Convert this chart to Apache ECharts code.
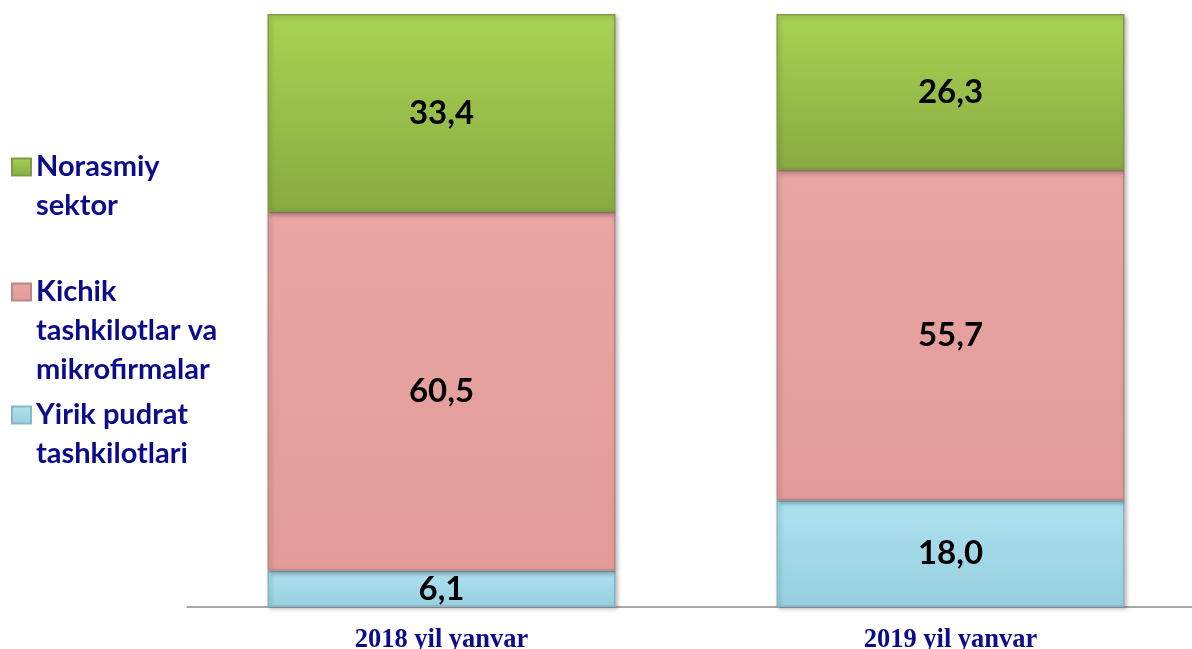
<!DOCTYPE html>
<html>
<head>
<meta charset="utf-8">
<script src="https://cdn.jsdelivr.net/npm/echarts@6/dist/echarts.min.js"></script>
<style>
  html, body { margin: 0; padding: 0; background: #fff; }
  #chart { width: 1192px; height: 649px; }
</style>
</head>
<body>
<div id="chart"></div>
<script>
// data (percent shares)
const categories = ['2018 yil yanvar', '2019 yil yanvar'];
const yirik = [6.1, 18.0];
const kichik = [60.5, 55.7];
const norasmiy = [33.4, 26.3];
const seriesNames = ['Yirik pudrat tashkilotlari', 'Kichik tashkilotlar va mikrofirmalar', 'Norasmiy sektor'];
const legendLines = {
  'Norasmiy sektor': ['Norasmiy', 'sektor'],
  'Kichik tashkilotlar va mikrofirmalar': ['Kichik', 'tashkilotlar va', 'mikrofirmalar'],
  'Yirik pudrat tashkilotlari': ['Yirik pudrat', 'tashkilotlari']
};

var chartDom = document.getElementById('chart');
var myChart = echarts.init(chartDom);
var LH = 39;

function grad(top, bottom) {
  return new echarts.graphic.LinearGradient(0, 0, 0, 1, [
    { offset: 0, color: top },
    { offset: 1, color: bottom }
  ]);
}

// the icon sits on the first text line: pad the text with empty lines on top
function makeLegend(name, iconCenter) {
  var n = legendLines[name].length;
  return {
    data: [name],
    orient: 'vertical',
    left: 11,
    top: iconCenter - (2 * n - 1) * LH / 2,
    padding: 0,
    icon: 'rect',
    itemWidth: 19,
    itemHeight: 17,
    selectedMode: false,
    formatter: function (nm) {
      var lines = legendLines[nm];
      var pad = [];
      for (var i = 1; i < lines.length; i++) pad.push(' ');
      return pad.concat(lines).join('\n');
    },
    textStyle: {
      color: '#0c0c8a',
      fontFamily: 'Lato',
      fontWeight: 'bold',
      fontSize: 29,
      lineHeight: LH
    }
  };
}

var labelCfg = {
  show: true,
  position: 'inside',
  color: '#000',
  fontFamily: 'Lato',
  fontWeight: 'bold',
  fontSize: 33,
  formatter: function (p) { return p.value.toFixed(1).replace('.', ','); }
};

function barSeries(name, data, top, bottom, border) {
  return {
    name: name,
    type: 'bar',
    stack: 'total',
    barWidth: 348,
    data: data,
    label: labelCfg,
    itemStyle: {
      color: grad(top, bottom),
      borderColor: border,
      borderWidth: 1.5,
      shadowColor: 'rgba(0,0,0,0.25)',
      shadowBlur: 4,
      shadowOffsetX: 2,
      shadowOffsetY: 2
    }
  };
}

var option = {
  animation: false,
  legend: [
    makeLegend('Norasmiy sektor', 167),
    makeLegend('Kichik tashkilotlar va mikrofirmalar', 292),
    makeLegend('Yirik pudrat tashkilotlari', 415)
  ],
  grid: {
    left: 187,
    width: 1018,
    top: 14,
    bottom: 42,
    containLabel: false,
    outerBoundsMode: 'none'
  },
  xAxis: {
    type: 'category',
    data: categories,
    axisTick: { show: false },
    axisLine: { lineStyle: { color: '#8c8c8c', width: 1.5 } },
    axisLabel: {
      color: '#0c0c8a',
      fontFamily: 'Liberation Serif',
      fontWeight: 'bold',
      fontSize: 26.5,
      margin: 20
    }
  },
  yAxis: {
    type: 'value',
    min: 0,
    max: 100,
    show: false,
    splitLine: { show: false }
  },
  series: [
    barSeries(seriesNames[0], yirik, '#aee2ef', '#97cfdf', '#86b7c4'),
    barSeries(seriesNames[1], kichik, '#e9a6a4', '#e29b99', '#b98785'),
    barSeries(seriesNames[2], norasmiy, '#a8d353', '#89aa42', '#7f9a46')
  ]
};

option && myChart.setOption(option);
</script>
</body>
</html>
